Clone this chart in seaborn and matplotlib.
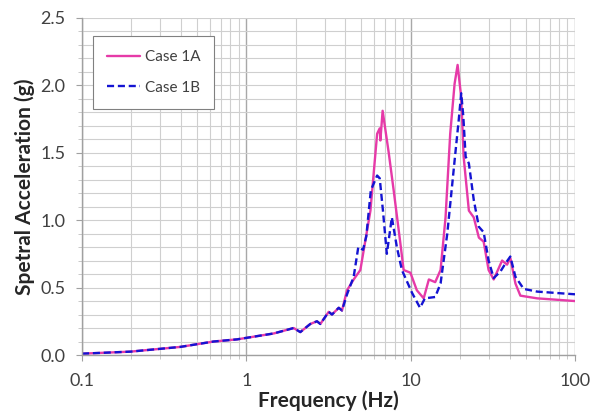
import numpy as np
import pandas as pd
import matplotlib
matplotlib.use("Agg")
import matplotlib.pyplot as plt
import seaborn as sns
from matplotlib.ticker import LogLocator, FixedLocator, MultipleLocator, NullFormatter

# ---- data ----
low_freq = [0.1, 0.197, 0.396, 0.632, 0.878, 1.11, 1.47, 1.94, 2.13, 2.45, 2.69, 2.82, 3.17, 3.32, 3.65]
low_sa = [0.01, 0.025, 0.06, 0.10, 0.116, 0.136, 0.16, 0.20, 0.17, 0.23, 0.25, 0.23, 0.32, 0.30, 0.35]

freq_1a = [3.82, 4.10, 4.50, 4.94, 5.69, 6.25, 6.48, 6.54, 6.75, 7.35, 7.88, 8.65, 9.06, 9.96,
           10.9, 12.0, 12.9, 14.1, 15.2, 16.3, 17.4, 18.5, 19.3, 20.3, 21.0, 22.6, 24.2, 26.0,
           27.8, 29.8, 32.0, 36.0, 38.6, 40.4, 43.4, 46.5, 58.8, 100.0]
sa_1a = [0.33, 0.48, 0.56, 0.63, 1.07, 1.64, 1.68, 1.59, 1.81, 1.50, 1.22, 0.83, 0.63, 0.61,
         0.48, 0.42, 0.56, 0.54, 0.63, 1.02, 1.64, 2.01, 2.15, 1.91, 1.47, 1.07, 1.02, 0.87,
         0.84, 0.63, 0.56, 0.70, 0.67, 0.72, 0.53, 0.44, 0.42, 0.40]

freq_1b = [3.82, 4.10, 4.50, 4.80, 5.13, 5.37, 5.72, 6.25, 6.48, 6.78, 7.16, 7.68, 8.24, 8.84,
           10.2, 11.4, 12.2, 14.1, 15.2, 16.7, 18.5, 19.6, 20.3, 20.9, 21.6, 22.6, 24.2, 26.0,
           27.8, 29.8, 32.0, 35.2, 37.8, 40.4, 43.4, 48.7, 58.8, 100.0]
sa_1b = [0.33, 0.45, 0.58, 0.80, 0.78, 0.88, 1.22, 1.33, 1.31, 1.07, 0.75, 1.02, 0.80, 0.63,
         0.46, 0.35, 0.42, 0.43, 0.53, 0.90, 1.44, 1.74, 1.94, 1.77, 1.47, 1.42, 1.15, 0.95,
         0.91, 0.70, 0.57, 0.62, 0.68, 0.73, 0.58, 0.49, 0.47, 0.45]

cases = ["Case 1A", "Case 1B"]
y_ticks = [0.0, 0.5, 1.0, 1.5, 2.0, 2.5]
x_ticks = [0.1, 1, 10, 100]
x_ticklabels = ["0.1", "1", "10", "100"]

df = pd.concat([
    pd.DataFrame({"freq": low_freq + freq_1a, "sa": low_sa + sa_1a, "case": cases[0]}),
    pd.DataFrame({"freq": low_freq + freq_1b, "sa": low_sa + sa_1b, "case": cases[1]}),
], ignore_index=True)

# ---- style ----
sns.set_style("white")
plt.rcParams["font.family"] = ["Lato", "DejaVu Sans"]

fig = plt.figure(figsize=(5.9, 4.19), dpi=100)
ax = fig.add_axes([0.139, 0.1527, 0.8356, 0.8051])

palette = {"Case 1A": "#e63aa8", "Case 1B": "#1414d2"}
dashes = {"Case 1A": "", "Case 1B": (3, 1.6)}
sns.lineplot(data=df, x="freq", y="sa", hue="case", style="case", palette=palette,
             dashes=dashes, linewidth=1.7, ax=ax, sort=False, estimator=None)

ax.set_xscale("log")
ax.set_xlim(0.1, 100)
ax.set_ylim(0, 2.5)

ax.xaxis.set_major_locator(FixedLocator(x_ticks))
ax.set_xticklabels(x_ticklabels)
ax.xaxis.set_minor_locator(LogLocator(base=10, subs=np.arange(2, 10)))
ax.xaxis.set_minor_formatter(NullFormatter())
ax.yaxis.set_major_locator(FixedLocator(y_ticks))
ax.set_yticklabels([f"{v:.1f}" for v in y_ticks])
ax.yaxis.set_minor_locator(MultipleLocator(0.1))

ax.grid(True, which="major", axis="x", color="#a8a8a8", linewidth=1.0)
ax.grid(True, which="minor", axis="x", color="#cfcfcf", linewidth=0.8)
ax.grid(True, which="both", axis="y", color="#cfcfcf", linewidth=0.8)

ax.tick_params(axis="both", which="major", labelsize=13, labelcolor="#404040",
               direction="out", length=4, color="#a0a0a0", left=True, bottom=True)
ax.tick_params(axis="both", which="minor", direction="out", length=3, color="#c0c0c0",
               left=True, bottom=True)
ax.tick_params(axis="x", pad=9)
ax.tick_params(axis="y", pad=8)

for side in ["top", "right"]:
    ax.spines[side].set_visible(False)
for side in ["left", "bottom"]:
    ax.spines[side].set_color("#a0a0a0")
    ax.spines[side].set_linewidth(1.0)

ax.set_xlabel("Frequency (Hz)", fontsize=15, fontweight="bold", labelpad=1)
ax.set_ylabel("Spetral Acceleration (g)", fontsize=15, fontweight="bold", labelpad=4)

leg = ax.legend(loc="upper left", bbox_to_anchor=(0.022, 0.945), fontsize=11,
                frameon=True, fancybox=False, edgecolor="#808080", framealpha=1,
                handlelength=2.2, handletextpad=0.3, labelspacing=1.1,
                borderpad=0.9, borderaxespad=0.0)
leg.get_frame().set_linewidth(0.8)
for t in leg.get_texts():
    t.set_color("#404040")

fig.savefig("out.png", dpi=100)
